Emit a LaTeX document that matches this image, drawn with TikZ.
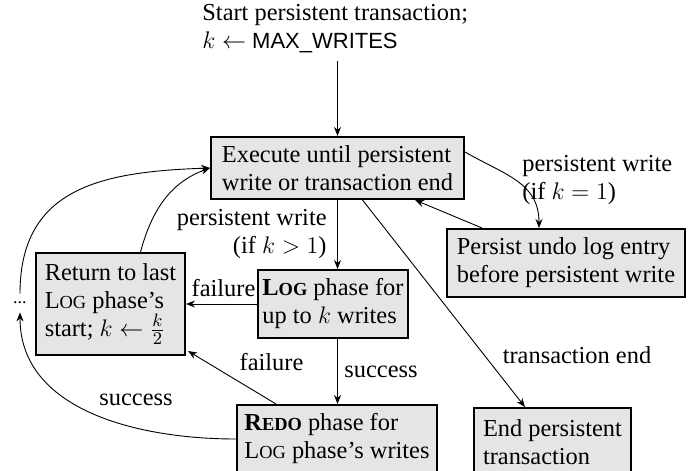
\documentclass[tikz,border=0pt]{standalone}
\usepackage{fontspec}
\setmainfont{Liberation Serif}
\setsansfont{Liberation Sans}
\usetikzlibrary{arrows.meta,calc}
\newcommand\smc[1]{{\fontsize{9.2}{10}\selectfont #1}}
\begin{document}
\begin{tikzpicture}[x=0.5pt,y=0.5pt,
  font=\fontsize{12.2}{14}\selectfont,
  box/.style={draw, line width=1pt, fill=gray!20, align=left, inner sep=2pt},
  lbl/.style={inner sep=0pt, align=left},
  arr/.style={-{Stealth[length=4.5pt,width=3.5pt]}, line width=0.45pt}]
\useasboundingbox (0,0) rectangle (691,-471);
% nodes
\node[lbl, anchor=north west] (start) at (202,-4)
  {Start persistent transaction;\\ $k \leftarrow$ {\sffamily\fontsize{11}{14}\selectfont MAX\_WRITES}};
\node[box, minimum width=126.5pt, minimum height=31pt] (exec) at (337.5,-168)
  {Execute until persistent\\write or transaction end};
\node[box, minimum width=74pt, minimum height=34pt] (log) at (333,-304)
  {\textbf{L\smc{OG}} phase for\\up to $k$ writes};
\node[box, minimum width=74.5pt, minimum height=51pt] (ret) at (110.5,-304)
  {Return to last\\L\smc{OG} phase's\\start; $k \leftarrow \frac{k}{2}$};
\node[box, minimum width=100pt, minimum height=34pt] (redo) at (337,-439)
  {\textbf{R\smc{EDO}} phase for\\L\smc{OG} phase's writes};
\node[box, minimum width=119pt, minimum height=34pt] (persist) at (566,-263)
  {Persist undo log entry\\before persistent write};
\node[box, minimum width=78.5pt, minimum height=34pt] (end) at (552.5,-442)
  {End persistent\\transaction};
\node[lbl, minimum height=9pt] (dots) at (20,-303) {\fontsize{9}{10}\selectfont ...};
% labels
\node[lbl, align=right, anchor=east] (pwA) at (327,-234) {persistent write\\(if $k > 1$)};
\node[lbl, anchor=west] (pwB) at (522,-180) {persistent write\\(if $k = 1$)};
\node[lbl] (failA) at (223.5,-288) {failure};
\node[lbl] (failB) at (271.5,-362) {failure};
\node[lbl] (succA) at (381,-372) {success};
\node[lbl] (succB) at (136,-400) {success};
\node[lbl] (tend) at (577,-355) {transaction end};
% connectors
\draw[arr, shorten <=4pt] (exec.north |- start.south) -- (exec.north);
\draw[arr] (exec.south) -- (exec.south |- log.north);
\draw[arr] (log.west) -- (log.west -| ret.east);
\draw[arr] (exec.south |- log.south) -- (exec.south |- redo.north);
\draw[arr] ($(redo.north west)+(40,0)$) -- ($(ret.south east)+(2,5)$);
\draw[arr] (redo.west) to[out=180, in=-90] (dots.south);
\draw[arr] (dots.north) to[out=90, in=182, looseness=1.2] (exec.west);
\draw[arr] ($(ret.north)+(30,0)$) to[out=75, in=200] (exec.west);
\draw[arr] ($(exec.east)+(0,16)$) to[out=-30, in=90, looseness=1.1] ($(persist.north)+(-27,0)$);
\draw[arr] ($(persist.north west)+(36,0)$) -- ($(exec.south east)+(-50,0)$);
\draw[arr] ($(exec.south)+(25,0)$) -- ($(end.north west)+(52,0)$);
\end{tikzpicture}
\end{document}
